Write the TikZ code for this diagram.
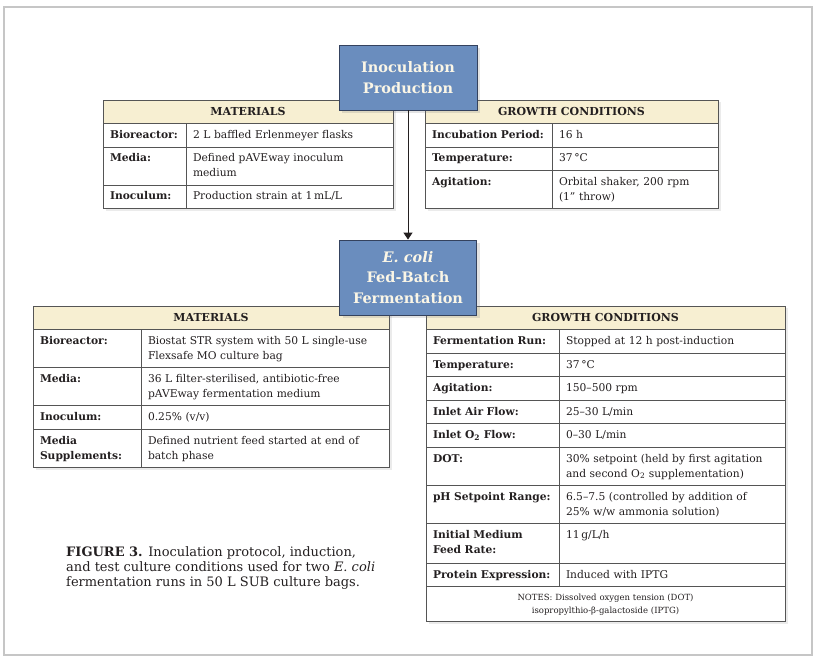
\documentclass[tikz,border=0pt]{standalone}
\usepackage{fontspec}
\setmainfont{DejaVu Serif}
\usepackage{tikz}
\usetikzlibrary{arrows.meta,positioning,shadows}
\definecolor{ink}{HTML}{231F20}
\definecolor{rule}{HTML}{555555}
\definecolor{framegrey}{HTML}{C6C6C6}
\definecolor{cream}{HTML}{F7EFD2}
\definecolor{steel}{HTML}{6A8DBE}
\definecolor{navy}{HTML}{34425E}
\definecolor{paper}{HTML}{FBF6E6}

\begin{document}
\begin{tikzpicture}[x=1pt,y=1pt,
  cell/.style={draw=rule,line width=0.85pt,fill=white,anchor=north west,align=left,inner xsep=7pt,inner ysep=6pt,outer sep=0pt,
    text height=9pt,text depth=2.5pt,font=\fontsize{10.7}{15}\selectfont,text=ink,
    drop shadow={opacity=.16,shadow xshift=2.5pt,shadow yshift=-2.5pt}},
  lab/.style={cell,font=\fontsize{10.7}{15}\selectfont\bfseries},
  two/.style={text depth=17pt},
  head/.style={draw=rule,line width=0.85pt,fill=cream,anchor=north west,inner sep=0pt,outer sep=0pt,minimum height=23.5pt,
    font=\fontsize{11}{13}\selectfont\bfseries,text=ink,
    drop shadow={opacity=.16,shadow xshift=2.5pt,shadow yshift=-2.5pt}},
  stage/.style={draw=navy,line width=0.8pt,fill=steel,text=paper,align=center,inner sep=0pt,
    font=\fontsize{14.5}{20.5}\selectfont\bfseries,
    drop shadow={opacity=.22,shadow xshift=3pt,shadow yshift=-3pt}},
  arrow/.style={-{Triangle[length=7pt,width=9pt]},line width=1pt,draw=ink}
]
\useasboundingbox (0,0) rectangle (820,-663);
\draw[framegrey,line width=1.2pt] (4,-7) rectangle (812,-655);

% inoculation: materials
\node[head,minimum width=290pt] (imh) at (103,-100) {MATERIALS};
\node[lab,text width=69pt] (im1) at (imh.south west) {Bioreactor:};
\node[cell,text width=193pt] (im1v) at (im1.north east) {2 L baffled Erlenmeyer flasks};
\node[lab,two,text width=69pt] (im2) at (im1.south west) {Media:};
\node[cell,two,text width=193pt] (im2v) at (im2.north east) {Defined pAVEway inoculum\\medium};
\node[lab,text width=69pt] (im3) at (im2.south west) {Inoculum:};
\node[cell,text width=193pt] (im3v) at (im3.north east) {Production strain at 1\,mL/L};

% inoculation: growth conditions
\node[head,minimum width=293pt] (igh) at (425,-100) {GROWTH CONDITIONS};
\node[lab,text width=113pt] (ig1) at (igh.south west) {Incubation Period:};
\node[cell,text width=152pt] (ig1v) at (ig1.north east) {16 h};
\node[lab,text width=113pt] (ig2) at (ig1.south west) {Temperature:};
\node[cell,text width=152pt] (ig2v) at (ig2.north east) {37\,°C};
\node[lab,two,text width=113pt] (ig3) at (ig2.south west) {Agitation:};
\node[cell,two,text width=152pt] (ig3v) at (ig3.north east) {Orbital shaker, 200 rpm\\(1” throw)};

% fermentation: materials
\node[head,minimum width=356pt] (fmh) at (33,-306) {MATERIALS};
\node[lab,two,text width=94pt] (fm1) at (fmh.south west) {Bioreactor:};
\node[cell,two,text width=234pt] (fm1v) at (fm1.north east) {Biostat STR system with 50 L single-use\\Flexsafe MO culture bag};
\node[lab,two,text width=94pt] (fm2) at (fm1.south west) {Media:};
\node[cell,two,text width=234pt] (fm2v) at (fm2.north east) {36 L filter-sterilised, antibiotic-free\\pAVEway fermentation medium};
\node[lab,text width=94pt] (fm3) at (fm2.south west) {Inoculum:};
\node[cell,text width=234pt] (fm3v) at (fm3.north east) {0.25\% (v/v)};
\node[lab,two,text width=94pt] (fm4) at (fm3.south west) {Media\\Supplements:};
\node[cell,two,text width=234pt] (fm4v) at (fm4.north east) {Defined nutrient feed started at end of\\batch phase};

% fermentation: growth conditions
\node[head,minimum width=359pt] (fgh) at (426,-306) {GROWTH CONDITIONS};
\node[lab,text width=119pt] (fg1) at (fgh.south west) {Fermentation Run:};
\node[cell,text width=212pt] (fg1v) at (fg1.north east) {Stopped at 12 h post-induction};
\node[lab,text width=119pt] (fg2) at (fg1.south west) {Temperature:};
\node[cell,text width=212pt] (fg2v) at (fg2.north east) {37\,°C};
\node[lab,text width=119pt] (fg3) at (fg2.south west) {Agitation:};
\node[cell,text width=212pt] (fg3v) at (fg3.north east) {150–500 rpm};
\node[lab,text width=119pt] (fg4) at (fg3.south west) {Inlet Air Flow:};
\node[cell,text width=212pt] (fg4v) at (fg4.north east) {25–30 L/min};
\node[lab,text width=119pt] (fg5) at (fg4.south west) {Inlet O\textsubscript{2} Flow:};
\node[cell,text width=212pt] (fg5v) at (fg5.north east) {0–30 L/min};
\node[lab,two,text width=119pt] (fg6) at (fg5.south west) {DOT:};
\node[cell,two,text width=212pt] (fg6v) at (fg6.north east) {30\% setpoint (held by first agitation\\and second O\textsubscript{2} supplementation)};
\node[lab,two,text width=119pt] (fg7) at (fg6.south west) {pH Setpoint Range:};
\node[cell,two,text width=212pt] (fg7v) at (fg7.north east) {6.5–7.5 (controlled by addition of\\25\% w/w ammonia solution)};
\node[lab,text depth=19pt,text width=119pt] (fg8) at (fg7.south west) {Initial Medium\\Feed Rate:};
\node[cell,text depth=19pt,text width=212pt] (fg8v) at (fg8.north east) {11\,g/L/h};
\node[lab,text width=119pt] (fg9) at (fg8.south west) {Protein Expression:};
\node[cell,text width=212pt] (fg9v) at (fg9.north east) {Induced with IPTG};
\node[cell,text height=8pt,text depth=15pt,text width=345pt,align=center,font=\fontsize{8.5}{12.5}\selectfont] (fnote) at (fg9.south west)
  {NOTES: Dissolved oxygen tension (DOT)\\isopropylthio-β-galactoside (IPTG)};

% stages
\node[stage,minimum width=138pt,minimum height=65pt] (inoc) at (408,-77.5) {Inoculation\\Production};
\node[stage,minimum width=137pt,minimum height=75pt] (fed) at (408,-277.5) {\textit{E. coli}\\Fed-Batch\\Fermentation};
\draw[arrow] (inoc) -- (fed);

\node[anchor=north west,align=left,inner sep=0pt,font=\fontsize{13}{15}\selectfont,text=ink] (caption) at (66,-546)
  {\textbf{FIGURE 3.} Inoculation protocol, induction,\\and test culture conditions used for two \textit{E. coli}\\fermentation runs in 50 L SUB culture bags.};
\end{tikzpicture}
\end{document}
